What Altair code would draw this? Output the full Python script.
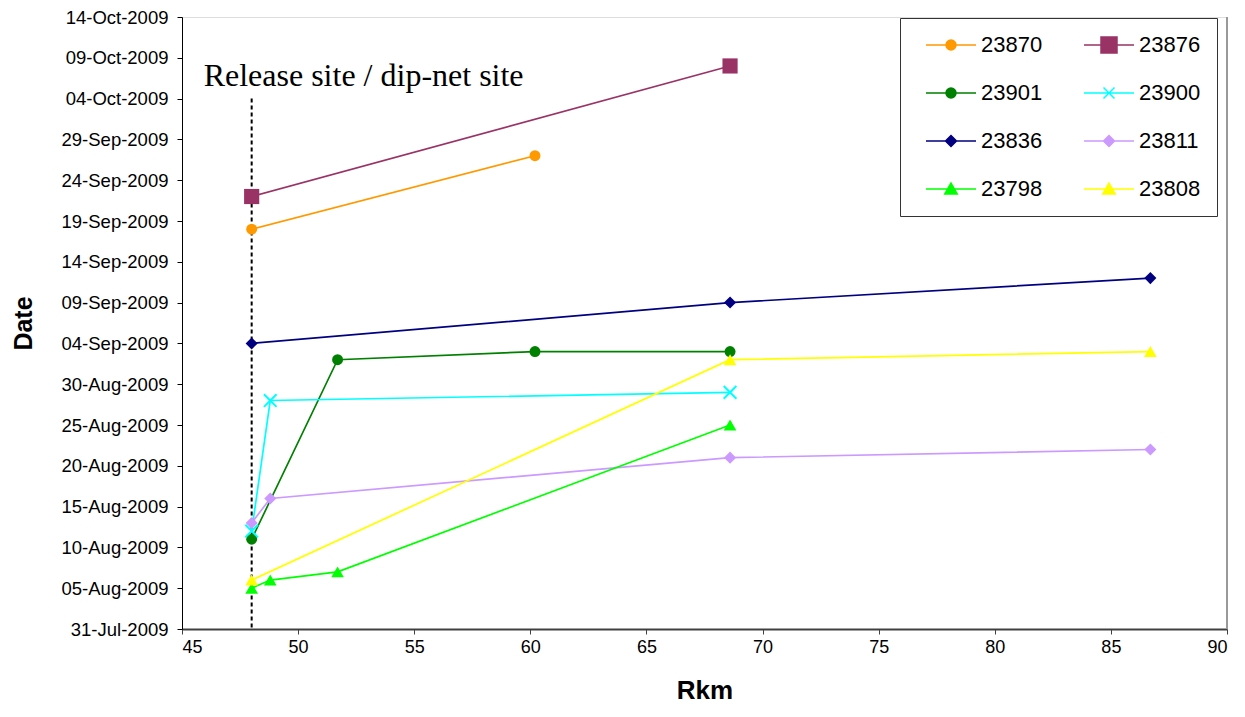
import altair as alt
import pandas as pd

# ---------------- data ----------------
series_ids = ["23870", "23876", "23901", "23900", "23836", "23811", "23798", "23808"]

rkm_23870 = [48.0, 60.2]
date_23870 = ["2009-09-18", "2009-09-27"]
rkm_23876 = [48.0, 68.6]
date_23876 = ["2009-09-22", "2009-10-08"]
rkm_23901 = [48.0, 51.7, 60.2, 68.6]
date_23901 = ["2009-08-11", "2009-09-02", "2009-09-03", "2009-09-03"]
rkm_23900 = [48.0, 48.8, 68.6]
date_23900 = ["2009-08-12", "2009-08-28", "2009-08-29"]
rkm_23836 = [48.0, 68.6, 86.7]
date_23836 = ["2009-09-04", "2009-09-09", "2009-09-12"]
rkm_23811 = [48.0, 48.8, 68.6, 86.7]
date_23811 = ["2009-08-13", "2009-08-16", "2009-08-21", "2009-08-22"]
rkm_23798 = [48.0, 48.8, 51.7, 68.6]
date_23798 = ["2009-08-05", "2009-08-06", "2009-08-07", "2009-08-25"]
rkm_23808 = [48.0, 68.6, 86.7]
date_23808 = ["2009-08-06", "2009-09-02", "2009-09-03"]

y_ticks = ["2009-07-31", "2009-08-05", "2009-08-10", "2009-08-15", "2009-08-20",
           "2009-08-25", "2009-08-30", "2009-09-04", "2009-09-09", "2009-09-14",
           "2009-09-19", "2009-09-24", "2009-09-29", "2009-10-04", "2009-10-09",
           "2009-10-14"]
x_ticks = [45, 50, 55, 60, 65, 70, 75, 80, 85, 90]

release_rkm = 48.0
release_top = "2009-10-04"
release_label = "Release site / dip-net site"
label_date = "2009-10-05T12:00:00Z"

# ---------------- table ----------------
series_data = {
    "23870": (rkm_23870, date_23870),
    "23876": (rkm_23876, date_23876),
    "23901": (rkm_23901, date_23901),
    "23900": (rkm_23900, date_23900),
    "23836": (rkm_23836, date_23836),
    "23811": (rkm_23811, date_23811),
    "23798": (rkm_23798, date_23798),
    "23808": (rkm_23808, date_23808),
}
rows = []
for sid in series_ids:
    xs, ds = series_data[sid]
    for i, (x, d) in enumerate(zip(xs, ds)):
        rows.append({"tag": sid, "rkm": x, "date": d, "idx": i})
df = pd.DataFrame(rows)

# legend is filled column by column: reorder so it reads row by row (2 columns)
legend_order = series_ids[0::2] + series_ids[1::2]

# ---------------- styles ----------------
color_of = {"23870": "#FF9900", "23876": "#993366", "23901": "#008000", "23900": "#00FFFF",
            "23836": "#000080", "23811": "#CC99FF", "23798": "#00FF00", "23808": "#FFFF00"}
marker = {"23870": "circle", "23876": "square", "23901": "circle", "23900": "x",
          "23836": "diamond", "23811": "diamond", "23798": "triangle", "23808": "triangle"}
L = "M-5,0H5"
legend_paths = {
    "circle": L + "M1,0A1,1,0,1,1,-1,0A1,1,0,1,1,1,0Z",
    "square": L + "M-1.6,-1.6H1.6V1.6H-1.6Z",
    "x": L + "M-1.1,-1.1L1.1,1.1M-1.1,1.1L1.1,-1.1",
    "diamond": L + "M0,-1.1L1.1,0L0,1.1L-1.1,0Z",
    "triangle": L + "M0,-1.2L1.25,1L-1.25,1Z",
}


def dt(s):
    y, m, d = s.split("-")
    return alt.DateTime(year=int(y), month=int(m), date=int(d), utc=True)


FONT = "Liberation Sans"

x_enc = alt.X("rkm:Q",
              scale=alt.Scale(domain=[x_ticks[0], x_ticks[-1]], nice=False, zero=False),
              axis=alt.Axis(values=x_ticks, title="Rkm", grid=False,
                            labelFont=FONT, labelFontSize=18, labelColor="black",
                            tickSize=5, tickColor="#404040", domainColor="#404040",
                            domainWidth=2, labelPadding=4,
                            titleFont=FONT, titleFontSize=26, titleFontWeight="bold",
                            titleColor="black", titleY=69, titleBaseline="alphabetic"))
y_scale = alt.Scale(type="utc", domain=[dt(y_ticks[0]), dt(y_ticks[-1])], nice=False)
y_enc = alt.Y("date:T", scale=y_scale,
              axis=alt.Axis(values=[dt(s) for s in y_ticks], format="%d-%b-%Y",
                            title="Date", grid=False,
                            labelFont=FONT, labelFontSize=18.5, labelColor="black",
                            tickSize=5, tickColor="black", domainColor="black",
                            labelPadding=9,
                            titleFont=FONT, titleFontSize=25, titleFontWeight="bold",
                            titleColor="black", titleX=-159, titleY=306,
                            titleAngle=-90, titleAlign="center", titleBaseline="middle"))

pal = alt.Scale(domain=series_ids, range=[color_of[s] for s in series_ids])
leg_pal = alt.Scale(domain=legend_order, range=[color_of[s] for s in legend_order])
base = alt.Chart(df)

# legend-only layer (invisible marks)
leg = alt.Legend(title=None, columns=2, orient="none", legendX=718, legendY=1,
                 labelFont=FONT, labelFontSize=22, labelColor="black",
                 symbolSize=100, symbolOffset=24, labelOffset=19, columnPadding=31,
                 rowPadding=26, padding=16, fillColor="white", strokeColor="#333333",
                 symbolStrokeWidth=1.5, symbolOpacity=1)
legend_layer = base.mark_point(filled=True, opacity=0, strokeWidth=1.5).encode(
    x=x_enc, y=y_enc,
    fill=alt.Fill("tag:N", scale=leg_pal, legend=leg, sort=legend_order),
    stroke=alt.Stroke("tag:N", scale=leg_pal, legend=leg, sort=legend_order),
    shape=alt.Shape("tag:N", scale=alt.Scale(domain=legend_order,
                                              range=[legend_paths[marker[s]] for s in legend_order]),
                    legend=leg, sort=legend_order),
)

lines = base.mark_line(strokeWidth=1.7).encode(
    x=x_enc, y=y_enc,
    color=alt.Color("tag:N", scale=pal, legend=None),
    detail="tag:N",
    order="idx:Q",
)

sizes = {"circle": 120, "square": 230, "diamond": 145, "triangle": 160}
vshape = {"circle": "circle", "square": "square", "diamond": "diamond", "triangle": "triangle-up"}
point_layers = []
for mk in ["circle", "square", "diamond", "triangle"]:
    ids = [s for s in series_ids if marker[s] == mk]
    point_layers.append(
        base.transform_filter(alt.FieldOneOfPredicate(field="tag", oneOf=ids))
        .mark_point(shape=vshape[mk], filled=True, size=sizes[mk], opacity=1, strokeWidth=0)
        .encode(x=x_enc, y=y_enc, color=alt.Color("tag:N", scale=pal, legend=None))
    )
ids_x = [s for s in series_ids if marker[s] == "x"]
point_layers.append(
    base.transform_filter(alt.FieldOneOfPredicate(field="tag", oneOf=ids_x))
    .mark_point(shape="M-1,-1L1,1M-1,1L1,-1", filled=False, size=160, strokeWidth=2, opacity=1)
    .encode(x=x_enc, y=y_enc, color=alt.Color("tag:N", scale=pal, legend=None))
)

rel_df = pd.DataFrame({"rkm": [release_rkm], "top": [release_top], "bottom": [y_ticks[0]]})
release_rule = alt.Chart(rel_df).mark_rule(color="black", strokeWidth=2, strokeDash=[4, 3]).encode(
    x="rkm:Q", y=alt.Y("top:T", scale=y_scale), y2="bottom:T")

lab_df = pd.DataFrame({"rkm": [release_rkm], "d": [label_date], "t": [release_label]})
release_text = alt.Chart(lab_df).mark_text(
    align="left", baseline="alphabetic", dx=-48, font="Liberation Serif", fontSize=32,
    color="black").encode(x="rkm:Q", y=alt.Y("d:T", scale=y_scale), text="t:N")

right_border = alt.Chart(pd.DataFrame({"rkm": [x_ticks[-1]]})).mark_rule(
    color="#999999", strokeWidth=2).encode(x="rkm:Q")

chart = alt.layer(
    legend_layer, release_rule, right_border, lines, *point_layers, release_text
).properties(
    width=1045, height=612,
    padding={"left": 174, "top": 9, "right": 9, "bottom": 76},
    autosize="none",
).configure_view(stroke=None).configure(background="white")

chart.save("out.html", embed_options={"renderer": "svg", "actions": False})
